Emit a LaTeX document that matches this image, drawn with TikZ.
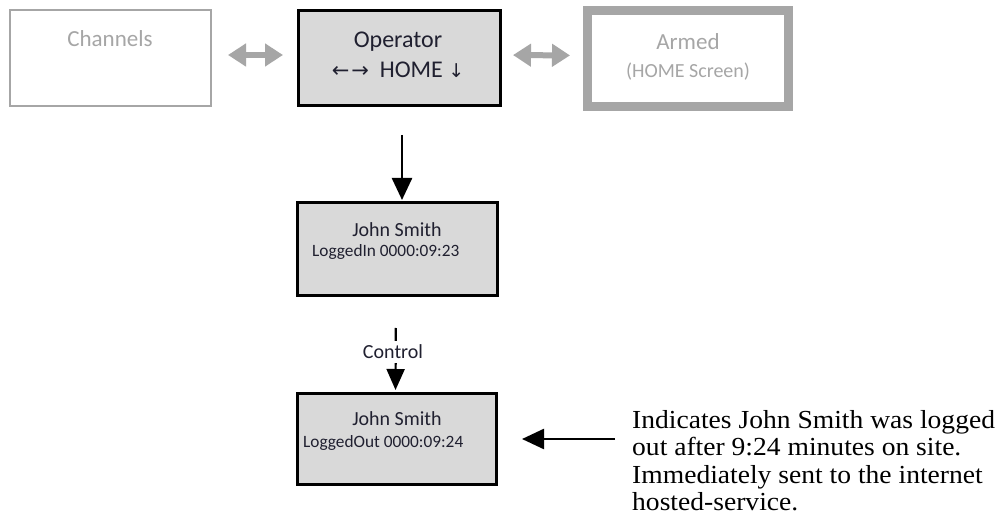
\documentclass[tikz,border=0pt]{standalone}
\usepackage{fontspec}
\setmainfont{Carlito}
\newfontfamily\notefont[FakeStretch=1.06]{Liberation Serif}
\newfontfamily\arrowfont{DejaVu Sans}
\usetikzlibrary{arrows.meta}
\definecolor{boxfill}{HTML}{D9D9D9}
\definecolor{lgray}{HTML}{A6A6A6}
\definecolor{ink}{HTML}{202030}
\tikzset{
  darkbox/.style={draw=black, line width=3pt, fill=boxfill, inner sep=0pt},
  lbl/.style={inner sep=0pt, anchor=base, text=ink},
  glbl/.style={inner sep=0pt, anchor=base, text=lgray},
  graydbl/.style={draw=lgray, line width=6pt,
    {Triangle[length=18pt,width=22pt]}-{Triangle[length=18pt,width=22pt]}},
  blackarr/.style={draw=black, line width=2.5pt, -{Triangle[length=22pt,width=20pt]}},
}
\newcommand{\fs}[1]{\fontsize{#1}{#1}\selectfont}
\begin{document}
\begin{tikzpicture}[x=1pt,y=-1pt]
\useasboundingbox[fill=white] (0,0) rectangle (1001,529);

% top row boxes
\node[draw=lgray, line width=2pt, minimum width=201pt, minimum height=96pt, inner sep=0pt] (chan) at (110.5,58) {};
\node[darkbox, minimum width=202pt, minimum height=95pt] (op) at (399.5,58) {};
\node[draw=lgray, line width=9pt, minimum width=201.5pt, minimum height=96pt, inner sep=0pt] (armed) at (687.75,58.5) {};

\node[glbl, font=\fs{23}] (chant) at (110,47) {Channels};
\node[lbl, font=\fs{24}] (opt1) at (398,48) {Operator};
\node[lbl, font=\fs{24}] (opt2) at (398,78) {{\arrowfont\fs{21}←\kern2pt→}\ \ HOME {\arrowfont\fs{19}↓}};
\node[glbl, font=\fs{23}] (armt1) at (688,50) {Armed};
\node[glbl, font=\fs{20}] (armt2) at (688,78) {(HOME Screen)};

% gray double arrows
\draw[graydbl, shorten <=16pt, shorten >=14pt] ([yshift=3pt]chan.east) -- ([yshift=3pt]op.west);
\draw[graydbl, shorten <=11pt, shorten >=12.5pt] ([yshift=3pt]op.east) -- ([yshift=3pt]armed.west);

% John Smith boxes
\node[darkbox, minimum width=200pt, minimum height=93pt] (j1) at (397.5,249) {};
\node[lbl, font=\fs{20}] (j1a) at (397,237) {John Smith};
\node[lbl, font=\fs{17.3}, anchor=base west] (j1b) at (312,257) {LoggedIn 0000:09:23};

\node[darkbox, minimum width=199pt, minimum height=91pt] (j2) at (397,439) {};
\node[lbl, font=\fs{20}] (j2a) at (397,425) {John Smith};
\node[lbl, font=\fs{17.3}, anchor=base west] (j2b) at (303,447) {LoggedOut 0000:09:24};

% operator -> John Smith
\draw[blackarr, shorten <=28pt, shorten >=1pt] ([xshift=4.5pt]j1.north |- op.south) -- ([xshift=4.5pt]j1.north);

% Control arrow
\draw[draw=black, line width=2.2pt, -{Triangle[length=21pt,width=18pt]}, shorten <=31pt, shorten >=2pt]
  ([xshift=-1.5pt]j1.south) -- ([xshift=-1.5pt]j2.north);
\node[fill=white, inner xsep=2pt, inner ysep=4pt, font=\fs{20}, text=ink] (ctl) at (393,352) {Control};

% note
\node[inner sep=0pt, anchor=north west, align=left, font=\notefont\fontsize{26}{27.5}\selectfont, text=black] (note) at (632,410)
  {Indicates John Smith was logged\\out after 9:24 minutes on site.\\Immediately sent to the internet\\hosted-service.};
\coordinate (ns) at (615,439);
\draw[blackarr, shorten >=24pt] (ns) -- (j2.east);
\end{tikzpicture}
\end{document}
